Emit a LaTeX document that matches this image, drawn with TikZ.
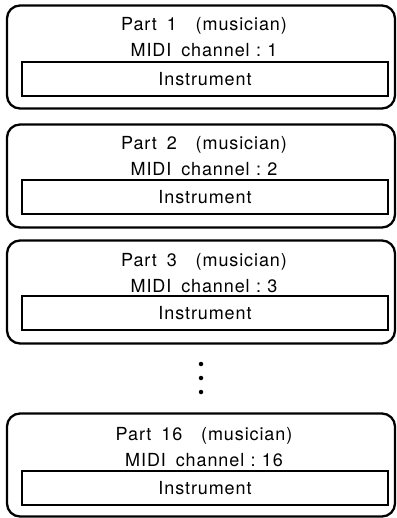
\documentclass[tikz,border=0pt]{standalone}
\usepackage{fontspec}
\setmainfont{TeX Gyre Heros}[LetterSpace=5]
\newcommand\dgfont{\fontsize{18}{20}\selectfont}
\newcommand\gapA{\hspace{0.55em}}
\newcommand\gapB{\hspace{1.05em}}
\newcommand\gapC{\hspace{0.35em}}
\begin{document}
\begin{tikzpicture}[x=1pt,y=-1pt,
  outerbox/.style={draw, line width=2.3pt, rounded corners=13pt, minimum width=388pt, minimum height=103pt, inner sep=0pt},
  innerbox/.style={draw, line width=1.4pt, minimum width=366pt, minimum height=34pt, inner sep=0pt, font=\dgfont},
  lbl/.style={anchor=base, inner sep=0pt, font=\dgfont},
  dotnode/.style={circle, fill, inner sep=0pt, minimum size=4.5pt}]
\useasboundingbox (0,0) rectangle (396,518);
% Part 1
\node[outerbox] (o1) at (201,57) {};
\node[lbl] (t1) at (204,31) {Part\gapA 1\gapB(musician)};
\node[lbl] (m1) at (204,57) {MIDI\gapA channel\gapC:\gapC 1};
\node[innerbox] (i1) at (205,79) {Instrument};
% Part 2
\node[outerbox] (o2) at (201,176) {};
\node[lbl] (t2) at (204,150) {Part\gapA 2\gapB(musician)};
\node[lbl] (m2) at (204,176) {MIDI\gapA channel\gapC:\gapC 2};
\node[innerbox] (i2) at (205,197) {Instrument};
% Part 3
\node[outerbox] (o3) at (201,292) {};
\node[lbl] (t3) at (204,266) {Part\gapA 3\gapB(musician)};
\node[lbl] (m3) at (204,292) {MIDI\gapA channel\gapC:\gapC 3};
\node[innerbox] (i3) at (205,313) {Instrument};
% dots
\node[dotnode] (d1) at (201,364) {};
\node[dotnode] (d2) at (201,378) {};
\node[dotnode] (d3) at (201,392) {};
% Part 16
\node[outerbox] (o16) at (201,465) {};
\node[lbl] (t16) at (204,440) {Part\gapA 16\gapB(musician)};
\node[lbl] (m16) at (204,466) {MIDI\gapA channel\gapC:\gapC 16};
\node[innerbox] (i16) at (205,488) {Instrument};
\end{tikzpicture}
\end{document}
